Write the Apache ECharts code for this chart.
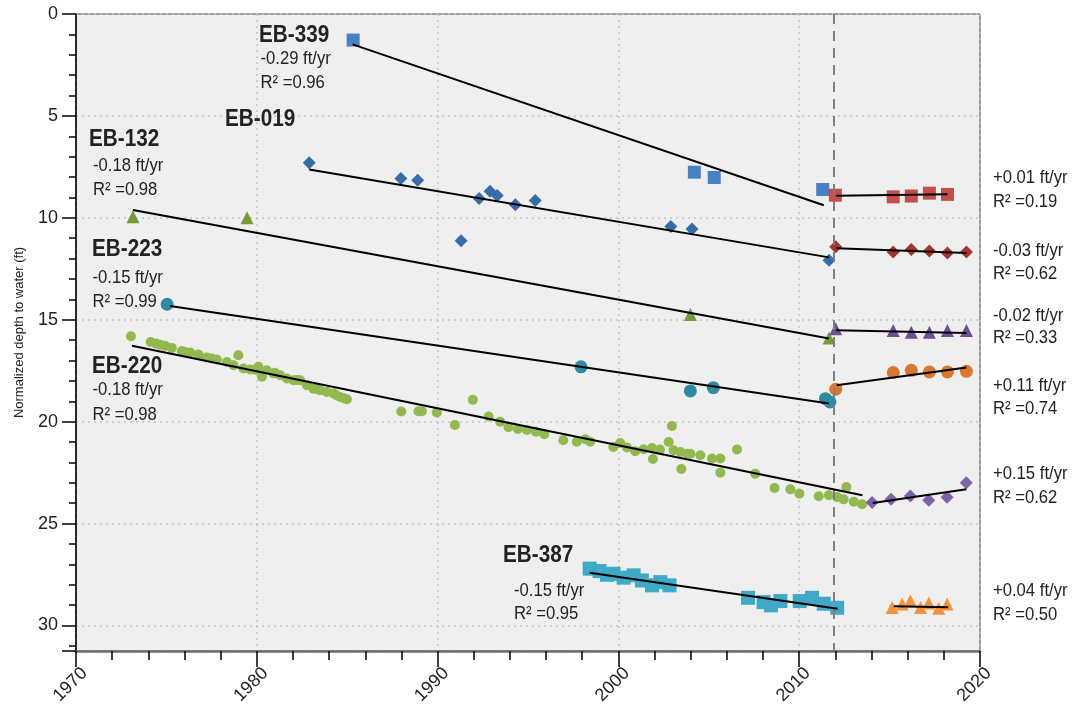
<!DOCTYPE html>
<html>
<head>
<meta charset="utf-8">
<script src="https://cdn.jsdelivr.net/npm/echarts@6/dist/echarts.min.js"></script>
<style>html,body{margin:0;padding:0;background:#fff}#c{width:1078px;height:704px}</style>
</head>
<body>
<div id="c"></div>
<script>
// ---- data: [year, normalized depth to water (ft)] ----
const eb339 = [[1985.33,1.28],[2004.2,7.76],[2005.3,8.02],[2011.3,8.61]];
const eb339Trend = [[1985.3,1.49],[2011.36,9.38]];
const eb339After = [[2012.0,8.89],[2015.2,8.97],[2016.2,8.93],[2017.2,8.79],[2018.2,8.85]];
const eb339AfterTrend = [[2012.05,8.92],[2018.2,8.84]];

const eb019 = [[1982.9,7.3],[1987.97,8.07],[1988.9,8.15],[1991.3,11.13],[1992.3,9.05],[1992.9,8.7],[1993.3,8.9],[1994.3,9.36],[1995.4,9.15],[2002.9,10.42],[2004.07,10.55],[2011.65,12.08]];
const eb019Trend = [[1982.9,7.63],[2011.65,11.94]];
const eb019After = [[2012.02,11.42],[2015.2,11.67],[2016.2,11.55],[2017.2,11.63],[2018.2,11.72],[2019.25,11.67]];
const eb019AfterTrend = [[2012.06,11.49],[2019.25,11.73]];

const eb132 = [[1973.15,9.95],[1979.46,9.99],[2003.98,14.74],[2011.65,15.9]];
const eb132Trend = [[1973.15,9.62],[2011.65,15.92]];
const eb132After = [[2012.02,15.44],[2015.2,15.53],[2016.2,15.61],[2017.2,15.61],[2018.2,15.53],[2019.25,15.53]];
const eb132AfterTrend = [[2012.05,15.51],[2019.25,15.65]];

const eb223 = [[1975.04,14.24],[1997.93,17.31],[2003.98,18.49],[2005.25,18.33],[2011.45,18.87],[2011.7,19.03]];
const eb223Trend = [[1975.2,14.32],[2011.65,19.11]];
const eb223After = [[2012.02,18.41],[2015.2,17.59],[2016.2,17.48],[2017.2,17.56],[2018.2,17.56],[2019.25,17.53]];
const eb223AfterTrend = [[2012.07,18.21],[2019.25,17.34]];

const eb220 = [[1973.04,15.81],[1974.13,16.09],[1974.43,16.17],[1974.65,16.22],[1974.93,16.28],[1975.3,16.38],[1975.85,16.53],[1976.0,16.57],[1976.31,16.61],[1976.77,16.71],[1977.23,16.85],[1977.5,16.9],[1977.79,16.95],[1978.34,17.07],[1978.71,17.23],[1978.98,16.74],[1979.26,17.39],[1979.63,17.44],[1979.9,17.45],[1980.09,17.31],[1980.28,17.8],[1980.55,17.48],[1980.92,17.64],[1981.0,17.6],[1981.29,17.72],[1981.66,17.88],[1982.03,17.97],[1982.2,17.95],[1982.4,17.97],[1982.77,18.21],[1983.13,18.38],[1983.3,18.4],[1983.5,18.46],[1983.87,18.54],[1984.24,18.62],[1984.4,18.7],[1984.61,18.79],[1984.8,18.85],[1984.98,18.9],
  [1987.99,19.5],[1988.94,19.49],[1989.13,19.49],[1989.96,19.55],[1990.96,20.16],[1991.95,18.93],[1992.82,19.75],[1993.46,20.0],[1993.92,20.27],[1994.44,20.36],[1994.94,20.41],[1995.44,20.49],[1995.9,20.62],[1996.95,20.91],[1997.7,20.98],[1998.17,20.86],[1998.44,20.98],[1999.72,21.24],[2000.1,21.05],[2000.47,21.27],[2000.93,21.45],[2001.39,21.35],[2001.86,21.29],[2001.91,21.83],[2002.3,21.37],[2002.78,21.0],[2002.96,20.21],[2003.05,21.4],[2003.43,21.49],[2003.8,21.57],[2003.48,22.32],[2003.98,21.57],[2004.53,21.65],[2005.18,21.81],[2005.64,21.81],[2006.56,21.36],[2005.64,22.5],[2007.57,22.55],[2008.64,23.25],[2009.51,23.32],[2010.01,23.53],[2011.08,23.66],[2011.64,23.61],[2012.1,23.7],[2012.46,23.81],[2012.61,23.21],[2013.02,23.93],[2013.48,24.05]];
const eb220Trend = [[1973.1,16.28],[2013.5,23.61]];
const eb220After = [[2014.03,23.96],[2015.08,23.81],[2016.15,23.65],[2017.17,23.86],[2018.18,23.71],[2019.24,22.99]];
const eb220AfterTrend = [[2014.07,23.99],[2019.25,23.32]];

const eb387 = [[1998.41,27.21],[1998.96,27.33],[1999.37,27.51],[1999.73,27.46],[2000.29,27.65],[2000.84,27.54],[2001.3,27.79],[2001.86,28.03],[2002.32,27.87],[2002.83,28.03],[2007.17,28.64],[2008.03,28.85],[2008.44,29.01],[2008.96,28.8],[2010.03,28.8],[2010.71,28.64],[2011.36,28.93],[2012.1,29.13]];
const eb387Trend = [[1998.41,27.41],[2012.13,29.18]];
const eb387After = [[2015.14,29.12],[2015.69,28.95],[2016.15,28.79],[2016.71,29.12],[2017.17,28.9],[2017.72,29.15],[2018.18,28.95]];
const eb387AfterTrend = [[2015.23,29.06],[2018.24,29.1]];

const splitYear = 2011.9;
const xTicks = [1970, 1980, 1990, 2000, 2010, 2020];
const yTicks = [0, 5, 10, 15, 20, 25, 30];

const wellLabels = [
  {name:'EB-339', slope:'-0.29 ft/yr', r2:'R² =0.96'},
  {name:'EB-019'},
  {name:'EB-132', slope:'-0.18 ft/yr', r2:'R² =0.98'},
  {name:'EB-223', slope:'-0.15 ft/yr', r2:'R² =0.99'},
  {name:'EB-220', slope:'-0.18 ft/yr', r2:'R² =0.98'},
  {name:'EB-387', slope:'-0.15 ft/yr', r2:'R² =0.95'}
];
const afterLabels = [
  {slope:'+0.01 ft/yr', r2:'R² =0.19'},
  {slope:'-0.03 ft/yr', r2:'R² =0.62'},
  {slope:'-0.02 ft/yr', r2:'R² =0.33'},
  {slope:'+0.11 ft/yr', r2:'R² =0.74'},
  {slope:'+0.15 ft/yr', r2:'R² =0.62'},
  {slope:'+0.04 ft/yr', r2:'R² =0.50'}
];

// ---- layout / style ----
const FONT = '"Liberation Sans", Arial, sans-serif';
const TXT = '#222';
const NARROW = 0.9;
// label anchor positions (pixels): name line, slope line, r2 line
const wellPos = [
  {x:259, y:[36,59,83], sx:260.5},
  {x:225, y:[120]},
  {x:89,  y:[140,166,190], sx:93},
  {x:92,  y:[250,278,302], sx:92.5},
  {x:92,  y:[367,390,415], sx:92.5},
  {x:503, y:[556,591,614], sx:514}
];
const afterPos = [[178,202],[251,274],[315.5,338],[386,409],[474,498],[591,615]];

function scatter(data, symbol, size, color, z) {
  return {type:'scatter', data, symbol, symbolSize:size, itemStyle:{color, opacity:1}, z:z||3, silent:true};
}
function trend(data) {
  return {type:'line', data, symbol:'none', lineStyle:{color:'#000', width:2}, z:5, silent:true};
}
function txt(x, y, text, font) {
  return {type:'text', x, y, scaleX:NARROW, scaleY:1, z:10,
          style:{text, font, fill:TXT, verticalAlign:'middle', align:'left'}};
}

const graphics = [];
wellLabels.forEach((w, i) => {
  const p = wellPos[i];
  graphics.push(txt(p.x, p.y[0], w.name, 'bold 23px ' + FONT));
  if (w.slope) {
    graphics.push(txt(p.sx, p.y[1], w.slope, '18.5px ' + FONT));
    graphics.push(txt(p.sx, p.y[2], w.r2, '18.5px ' + FONT));
  }
});
afterLabels.forEach((a, i) => {
  graphics.push(txt(993, afterPos[i][0], a.slope, '18.5px ' + FONT));
  graphics.push(txt(993, afterPos[i][1], a.r2, '18.5px ' + FONT));
});

const chart = echarts.init(document.getElementById('c'), null, {renderer:'canvas'});
chart.setOption({
  animation:false,
  backgroundColor:'#fff',
  grid:{left:76, right:98, top:14, bottom:53, show:true, backgroundColor:'#efefef', borderColor:'#444', borderWidth:1,
        containLabel:false, outerBoundsMode:'none'},
  xAxis:{
    type:'value', min:xTicks[0], max:xTicks[xTicks.length-1], interval:10,
    axisLine:{show:true, onZero:false, lineStyle:{color:'#6e6e6e', width:2.5}},
    axisTick:{show:true, length:16, lineStyle:{color:'#000', width:1.5}},
    minorTick:{show:true, splitNumber:5, length:9, lineStyle:{color:'#000', width:1.5}},
    splitLine:{show:true, lineStyle:{color:'#c4c4c4', width:1.5, type:[2,4]}},
    axisLabel:{rotate:45, fontFamily:FONT, fontSize:18, color:TXT, margin:28, padding:[0,-12,0,0],
               formatter:v => xTicks.includes(v) ? String(v) : ''}
  },
  yAxis:{
    type:'value', inverse:true, min:0, max:31.25, interval:5,
    name:'Normalized depth to water (ft)', nameLocation:'middle', nameGap:50,
    nameTextStyle:{fontFamily:FONT, fontSize:13, color:TXT},
    axisLine:{show:true, onZero:false, lineStyle:{color:'#000', width:1.5}},
    axisTick:{show:true, length:14, lineStyle:{color:'#000', width:1.5}},
    minorTick:{show:true, splitNumber:5, length:7, lineStyle:{color:'#000', width:1.5}},
    splitLine:{show:true, lineStyle:{color:'#c4c4c4', width:1.5, type:[2,4]}},
    axisLabel:{fontFamily:FONT, fontSize:18, color:TXT, margin:18, showMaxLabel:false, formatter:v => yTicks.includes(v) ? String(v) : ''}
  },
  series:[
    scatter(eb220, 'circle', 10, '#92b94f'),
    scatter(eb339, 'rect', 13, '#4a80c4'),
    scatter(eb339After, 'rect', 13, '#c44e4a'),
    scatter(eb019, 'diamond', [13,13], '#386ca8'),
    scatter(eb019After, 'diamond', [13,13], '#a5342f'),
    scatter(eb132, 'triangle', 13, '#779a39'),
    scatter(eb132After, 'triangle', 13, '#6e4f95'),
    scatter(eb223, 'circle', 13, '#2f8aa3'),
    scatter(eb223After, 'circle', 13, '#d9772c'),
    scatter(eb220After, 'diamond', 13, '#7e62a8'),
    scatter(eb387, 'rect', 14, '#3eaac8'),
    scatter(eb387After, 'triangle', 13, '#f4923e'),
    trend(eb339Trend), trend(eb339AfterTrend),
    trend(eb019Trend), trend(eb019AfterTrend),
    trend(eb132Trend), trend(eb132AfterTrend),
    trend(eb223Trend), trend(eb223AfterTrend),
    trend(eb220Trend), trend(eb220AfterTrend),
    trend(eb387Trend), trend(eb387AfterTrend),
    {type:'line', data:[], z:2, silent:true,
     markLine:{symbol:'none', silent:true, label:{show:false},
       lineStyle:{color:'#808080', width:2, type:[10,7]},
       data:[{xAxis:splitYear}]}}
  ],
  graphic:graphics
});
</script>
</body>
</html>
